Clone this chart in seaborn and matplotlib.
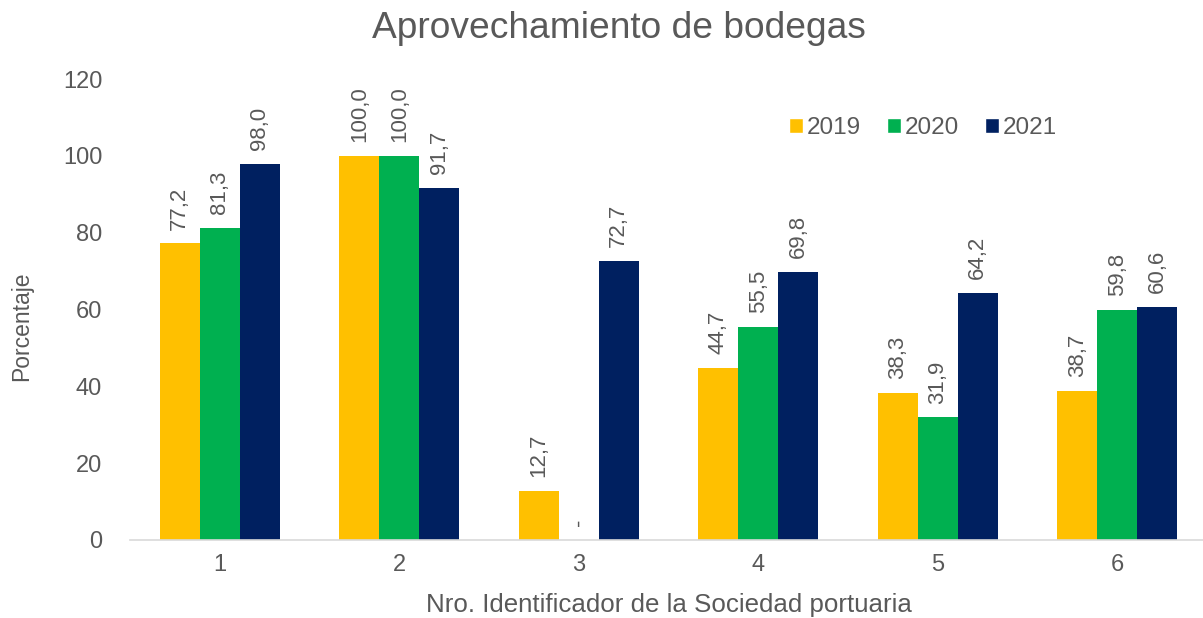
import matplotlib
matplotlib.use("Agg")
import matplotlib.pyplot as plt
import seaborn as sns
import pandas as pd
from matplotlib.patches import Patch

categories = ["1", "2", "3", "4", "5", "6"]
years = ["2019", "2020", "2021"]
v2019 = [77.2, 100.0, 12.7, 44.7, 38.3, 38.7]
v2020 = [81.3, 100.0, 0.0, 55.5, 31.9, 59.8]
v2021 = [98.0, 91.7, 72.7, 69.8, 64.2, 60.6]
colors = ["#FFC000", "#00B050", "#002060"]

rows = []
for y, vals in zip(years, [v2019, v2020, v2021]):
    for c, v in zip(categories, vals):
        rows.append({"cat": c, "year": y, "val": v})
df = pd.DataFrame(rows)

sns.set_theme(style="white")
plt.rcParams['font.family'] = ['Liberation Sans', 'DejaVu Sans']
txt = "#595959"

fig = plt.figure(figsize=(12.03, 6.18), dpi=100)
ax = fig.add_axes([130/1203, 1-540/618, (1207-130)/1203, (540-79)/618])

sns.barplot(data=df, x="cat", y="val", hue="year", palette=colors,
            order=categories, hue_order=years, width=0.667, gap=0,
            saturation=1, errorbar=None, ax=ax, legend=False,
            linewidth=0, edgecolor="none")

for cont in ax.containers:
    labels = []
    for b in cont:
        h = b.get_height()
        labels.append("-" if h == 0 else f"{h:.1f}".replace(".", ","))
    ax.bar_label(cont, labels=labels, rotation=90, padding=10,
                 fontsize=16, color=txt)

ax.set_ylim(0, 120)
ax.set_yticks(range(0, 121, 20))
ax.set_xlim(-0.5, 5.5)
for s in ["top", "right", "left"]:
    ax.spines[s].set_visible(False)
ax.spines["bottom"].set_color("#D9D9D9")
ax.spines["bottom"].set_linewidth(1.2)
ax.tick_params(axis="both", length=0, labelsize=17, labelcolor=txt)
ax.tick_params(axis="y", pad=20)
ax.tick_params(axis="x", pad=10)
ax.set_xlabel("Nro. Identificador de la Sociedad portuaria", fontsize=18.6,
              color=txt, labelpad=12)
ax.set_ylabel("")
fig.text(22/1203, 1-326/618, "Porcentaje", rotation=90, fontsize=16.5,
         color=txt, ha="center", va="center")
fig.text(619/1203, 1-28/618, "Aprovechamiento de bodegas", fontsize=26.7,
         color=txt, ha="center", va="center")

handles = [Patch(facecolor=c, label=y) for c, y in zip(colors, years)]
fig.legend(handles=handles, loc="center", bbox_to_anchor=(923/1203, 1-128/618),
           ncol=3, frameon=False, fontsize=17.5, labelcolor=txt,
           handlelength=0.6, handleheight=0.6, handletextpad=0.15,
           columnspacing=1.05)

fig.savefig("out.png", dpi=100)
